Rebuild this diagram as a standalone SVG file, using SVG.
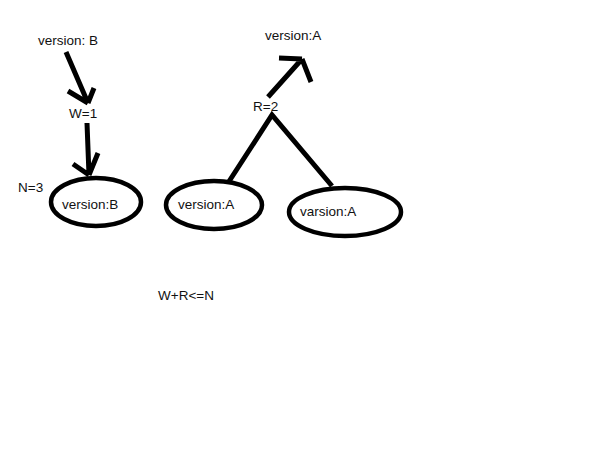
<svg xmlns="http://www.w3.org/2000/svg" width="614" height="460" viewBox="0 0 614 460">
<style>
text{font-family:"Liberation Sans",Arial,sans-serif;font-size:13.5px;fill:#111}
.ln{stroke:#000;stroke-width:5;fill:none;stroke-linecap:butt;stroke-linejoin:miter}
.el{stroke:#000;stroke-width:4.5;fill:none}
</style>
<rect width="614" height="460" fill="#fff"/>
<g id="connectors">
<path class="ln" d="M66,52 L88,103 M68,91 L88,103 M94,88 L88,103"/>
<path class="ln" d="M87,123 L89,175 M73,164 L89,175 M98,153 L89,175"/>
<path class="ln" d="M268,97 L302,59 M279,58 L302,59 M311,82 L302,59"/>
<path class="ln" d="M228,183 L272,115 L332,186"/>
</g>
<g id="label-versionB"><text x="38" y="45">version: B</text></g>
<g id="label-W"><text x="69" y="118">W=1</text></g>
<g id="label-N"><text x="18" y="192">N=3</text></g>
<g id="node1"><ellipse class="el" cx="96" cy="202" rx="45" ry="24"/><text x="62" y="209">version:B</text></g>
<g id="label-versionA"><text x="265" y="40">version:A</text></g>
<g id="label-R"><text x="253" y="111">R=2</text></g>
<g id="node2"><ellipse class="el" cx="214" cy="205" rx="48" ry="24"/><text x="178" y="209">version:A</text></g>
<g id="node3"><ellipse class="el" cx="345" cy="212" rx="56" ry="24"/><text x="300" y="216">varsion:A</text></g>
<g id="label-formula"><text x="158" y="300">W+R&lt;=N</text></g>
</svg>
